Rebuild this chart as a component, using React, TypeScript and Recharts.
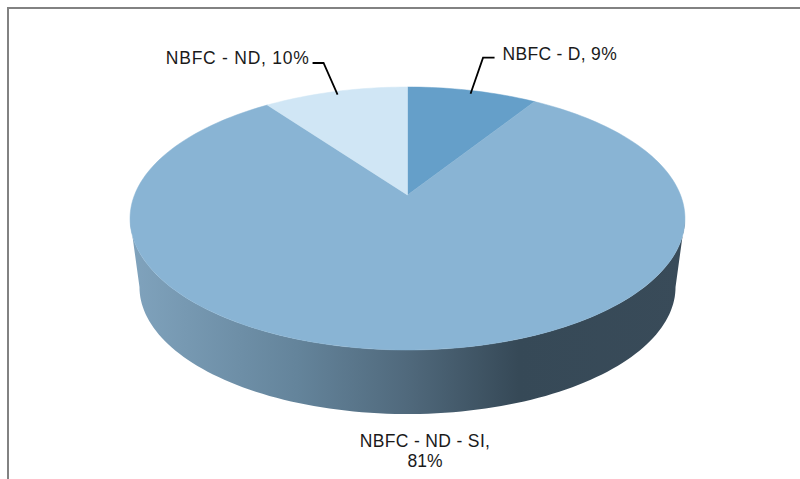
import React from "react";
import { PieChart, Pie, Cell } from "recharts";

const categories = ["NBFC - D", "NBFC - ND - SI", "NBFC - ND"];
const shares = [9, 81, 10];
const sliceColors = ["#659fc9", "#89b4d4", "#d0e6f5"];

const rows = categories.map((name, i) => ({ name, value: shares[i] }));

const W = 800;
const H = 479;
const CX = 407.5;
const CY = 195;
const R = 273;
const SQUASH = 127.3 / 273;
const K = 0.1787;
const WALL_SCALE = 0.966;
const WALL_DROP = 69.3;
const rad = Math.PI / 180;

// Clockwise degrees from twelve o'clock → screen point on the tilted disc rim.
function rim(a: number, r: number, cx: number, cy: number, scale = 1, drop = 0, f = 1) {
  const u = Math.sin(a * rad) * f;
  const v = Math.cos(a * rad) * f;
  const d = 1 + K * v;
  return [cx + (scale * r * u) / d, cy + drop - (scale * r * SQUASH * v) / d];
}

const FRONT_START = 90 + Math.asin(K) / rad;
const FRONT_END = 360 - FRONT_START;

function fmt(p: number[]) {
  return `${p[0].toFixed(2)} ${p[1].toFixed(2)}`;
}

function Slice(props: any) {
  const { cx, cy, outerRadius, startAngle, endAngle, fill } = props;
  const a0 = 90 - startAngle;
  const a1 = 90 - endAngle;
  const steps = Math.max(8, Math.ceil((a1 - a0) / 1.5));
  let top = `M ${fmt([cx, cy])}`;
  for (let i = 0; i <= steps; i++) {
    top += ` L ${fmt(rim(a0 + ((a1 - a0) * i) / steps, outerRadius, cx, cy))}`;
  }
  top += " Z";

  const w0 = Math.max(a0, FRONT_START);
  const w1 = Math.min(a1, FRONT_END);
  let wall = "";
  if (w1 > w0) {
    const n = Math.ceil((w1 - w0) / 1.5);
    for (let i = 0; i <= n; i++) {
      const a = w0 + ((w1 - w0) * i) / n;
      wall += `${i === 0 ? "M" : "L"} ${fmt(rim(a, outerRadius, cx, cy, WALL_SCALE, WALL_DROP))} `;
    }
    for (let i = n; i >= 0; i--) {
      const a = w0 + ((w1 - w0) * i) / n;
      wall += `L ${fmt(rim(a, outerRadius, cx, cy))} `;
    }
    wall += "Z";
  }
  return (
    <g>
      {wall && <path d={wall} fill="url(#wallShade)" stroke="none" />}
      <path d={top} fill={fill} stroke={fill} strokeWidth={0.5} />
    </g>
  );
}

function SliceLabel(props: any) {
  const { cx, cy, outerRadius, midAngle, index, name, value } = props;
  const base = { fontFamily: "Liberation Sans, Arial, sans-serif", fontSize: 17.5, fill: "#1a1a1a" };
  const a = 90 - midAngle;
  const norm = a > 180 ? a - 360 : a;
  if (index === 1) {
    return (
      <text x={cx + 17.5} y={cy + 251.5} textAnchor="middle" style={base}>
        <tspan x={cx + 17.5} letterSpacing={0.35}>{name},</tspan>
        <tspan x={cx + 17.5} dy={20}>{value}%</tspan>
      </text>
    );
  }
  const p = rim(norm, outerRadius, cx, cy, 1, 0, 0.965);
  const right = norm >= 0;
  const elbowX = right ? p[0] + 12.5 : p[0] - 14;
  const endX = right ? elbowX + 11.5 : elbowX - 11;
  const y = right ? cy - 137.3 : cy - 132;
  return (
    <g>
      <polyline
        points={`${p[0]},${p[1]} ${elbowX},${y} ${endX},${y}`}
        fill="none"
        stroke="#000"
        strokeWidth={1.8}
      />
      <text
        x={right ? endX + 8 : endX - 3}
        y={right ? y + 2 : y + 0.5}
        textAnchor={right ? "start" : "end"}
        style={base}
        letterSpacing={right ? 0.3 : 0.75}
      >
        {`${name}, ${value}%`}
      </text>
    </g>
  );
}

export default function App() {
  return (
    <div style={{ position: "absolute", left: 0, top: 0, width: W, height: H, background: "#fff", overflow: "hidden" }}>
      <div
        style={{
          position: "absolute",
          left: 7,
          top: 7,
          width: W,
          height: H,
          borderLeft: "2px solid #828282",
          borderTop: "2px solid #828282",
        }}
      />
      <div style={{ position: "absolute", left: 0, top: 0 }}>
        <PieChart width={W} height={H} margin={{ top: 0, right: 0, bottom: 0, left: 0 }}>
          <defs>
            <linearGradient id="wallShade" x1="0" y1="0" x2="1" y2="0">
              <stop offset="0" stopColor="#80a3bd" />
              <stop offset="0.3" stopColor="#64849b" />
              <stop offset="0.5" stopColor="#50697c" />
              <stop offset="0.7" stopColor="#364957" />
              <stop offset="1" stopColor="#394b59" />
            </linearGradient>
          </defs>
          <Pie
            data={rows}
            dataKey="value"
            nameKey="name"
            cx={CX}
            cy={CY}
            outerRadius={R}
            startAngle={90}
            endAngle={-270}
            stroke="none"
            paddingAngle={0}
            isAnimationActive={false}
            shape={Slice}
            label={SliceLabel}
            labelLine={false}
          >
            {rows.map((r, i) => (
              <Cell key={r.name} fill={sliceColors[i]} />
            ))}
          </Pie>
        </PieChart>
      </div>
    </div>
  );
}
